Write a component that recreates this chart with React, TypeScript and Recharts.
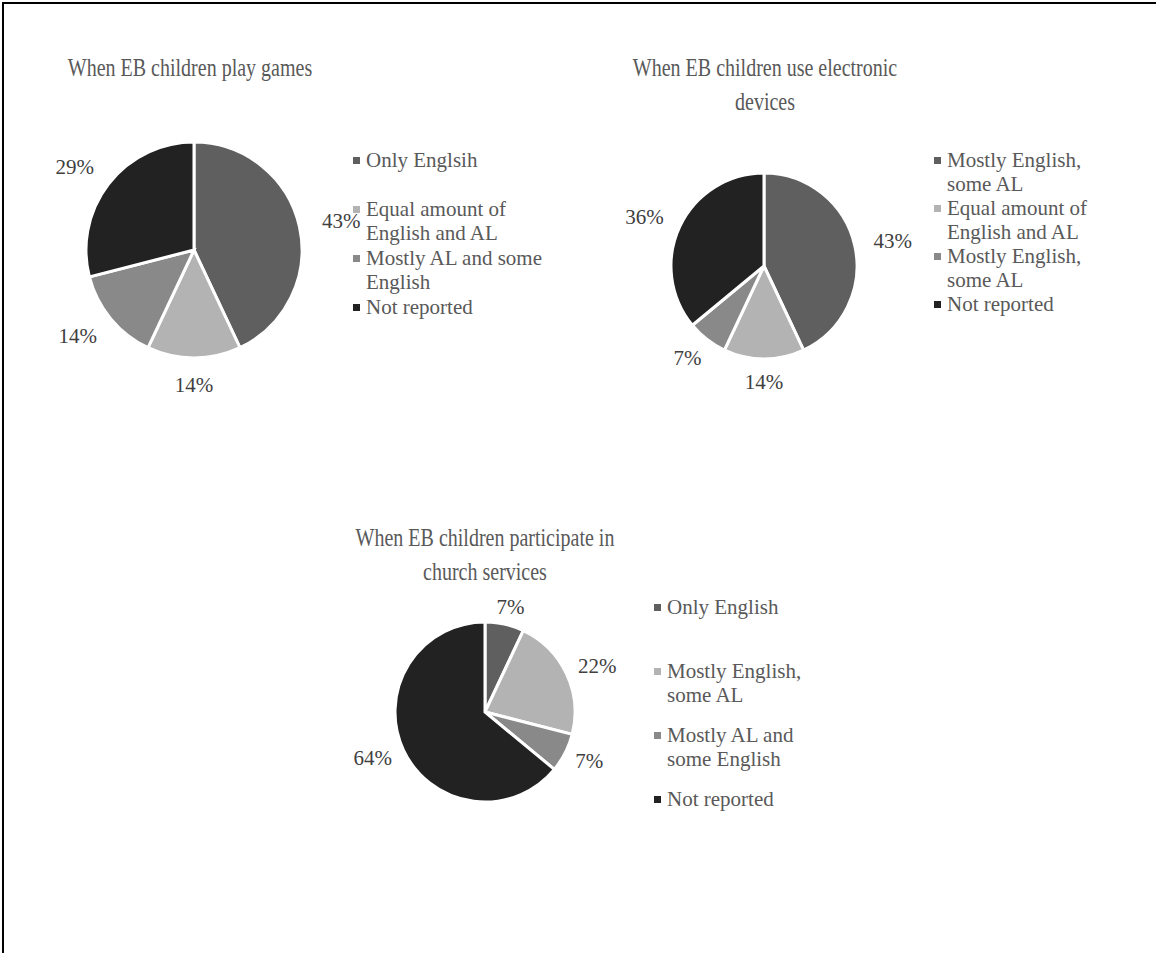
import { PieChart, Pie, Cell, Legend } from 'recharts'

const SHADES = ['#5f5f5f', '#b3b3b3', '#898989', '#222222']

const gamesLabels = ['Only Englsih', 'Equal amount of English and AL', 'Mostly AL and some English', 'Not reported']
const gamesValues = [43, 14, 14, 29]

const devicesLabels = ['Mostly English, some AL', 'Equal amount of English and AL', 'Mostly English, some AL', 'Not reported']
const devicesValues = [43, 14, 7, 36]

const churchLabels = ['Only English', 'Mostly English, some AL', 'Mostly AL and some English', 'Not reported']
const churchValues = [7, 22, 7, 64]

const FONT = "'Liberation Serif', 'Times New Roman', serif"
const RAD = Math.PI / 180

type Row = { name: string; value: number; key: string }

const toRows = (labels: string[], values: number[]): Row[] =>
  labels.map((name, i) => ({ name, value: values[i], key: `${i}` }))

// % label just outside the rim, pushed out by half its own box
const makeLabel = (gap: number) => (props: any) => {
  const { cx, cy, midAngle, outerRadius, value } = props
  const text = `${value}%`
  const dx = Math.cos(-midAngle * RAD)
  const dy = Math.sin(-midAngle * RAD)
  const w = text.length * 14
  const h = 10
  const x = cx + (outerRadius + gap) * dx + (dx * w) / 2
  const y = cy + (outerRadius + gap) * dy + (dy * h) / 2
  return (
    <text x={x} y={y} fill="#404040" fontSize={21} fontFamily={FONT}
      textAnchor="middle" dominantBaseline="central">
      {text}
    </text>
  )
}

// legend drawn in data order (recharts would sort it by name)
const makeLegend = (rows: Row[], textWidth: number, itemHeight: number) => () => (
  <div style={{ fontFamily: FONT, fontSize: 21, color: '#595959', lineHeight: '24px' }}>
    {rows.map((r, i) => (
      <div key={r.key} style={{ display: 'flex', alignItems: 'flex-start', minHeight: itemHeight }}>
        <span style={{
          width: 7, height: 7, background: SHADES[i], marginTop: 9, marginRight: 6, flex: 'none',
        }} />
        <span style={{ width: textWidth }}>{r.name}</span>
      </div>
    ))}
  </div>
)

interface OnePieProps {
  title: string
  rows: Row[]
  left: number
  top: number
  width: number
  height: number
  cx: number
  cy: number
  radius: number
  gap: number
  legendLeft: number
  legendTop: number
  legendTextWidth: number
  legendItemHeight: number
  titleCenter: number
  titleTop: number
}

function OnePie(p: OnePieProps) {
  return (
    <>
      {/* the titles are set in a tall, narrow face */}
      <div style={{
        position: 'absolute', left: p.titleCenter - 180, top: p.titleTop, width: 360,
        textAlign: 'center', fontFamily: FONT, fontSize: 25, lineHeight: '34px', color: '#595959',
        transform: 'scaleX(0.8)', transformOrigin: 'center top',
      }}>
        {p.title}
      </div>
      <div style={{ position: 'absolute', left: p.left, top: p.top }}>
        <PieChart width={p.width} height={p.height} margin={{ top: 0, right: 0, bottom: 0, left: 0 }}>
          <Pie
            data={p.rows}
            dataKey="value"
            nameKey="name"
            cx={p.cx}
            cy={p.cy}
            outerRadius={p.radius}
            startAngle={90}
            endAngle={-270}
            stroke="#ffffff"
            strokeWidth={3}
            label={makeLabel(p.gap)}
            labelLine={false}
            isAnimationActive={false}
          >
            {p.rows.map((r, i) => <Cell key={r.key} fill={SHADES[i]} />)}
          </Pie>
          <Legend
            layout="vertical"
            content={makeLegend(p.rows, p.legendTextWidth, p.legendItemHeight)}
            wrapperStyle={{ left: p.legendLeft, top: p.legendTop, width: 'auto' }}
          />
        </PieChart>
      </div>
    </>
  )
}

export default function App() {
  return (
    <div style={{
      position: 'absolute', left: 0, top: 0, width: 1156, height: 953, background: '#fff',
      overflow: 'hidden',
    }}>
      <div style={{
        position: 'absolute', left: 2, top: 2, width: 1160, height: 960,
        borderLeft: '2px solid #000', borderTop: '2px solid #000',
      }} />
      <OnePie
        title="When EB children play games"
        rows={toRows(gamesLabels, gamesValues)}
        left={0} top={0} width={578} height={460}
        cx={194} cy={250} radius={108} gap={22}
        legendLeft={353} legendTop={148} legendTextWidth={190} legendItemHeight={49}
        titleCenter={190} titleTop={51}
      />
      <OnePie
        title="When EB children use electronic devices"
        rows={toRows(devicesLabels, devicesValues)}
        left={578} top={0} width={578} height={460}
        cx={186} cy={266} radius={93} gap={18}
        legendLeft={356} legendTop={148} legendTextWidth={160} legendItemHeight={48}
        titleCenter={765} titleTop={51}
      />
      <OnePie
        title="When EB children participate in church services"
        rows={toRows(churchLabels, churchValues)}
        left={200} top={470} width={620} height={420}
        cx={285} cy={242} radius={90} gap={13}
        legendLeft={454} legendTop={125} legendTextWidth={150} legendItemHeight={64}
        titleCenter={485} titleTop={521}
      />
    </div>
  )
}
